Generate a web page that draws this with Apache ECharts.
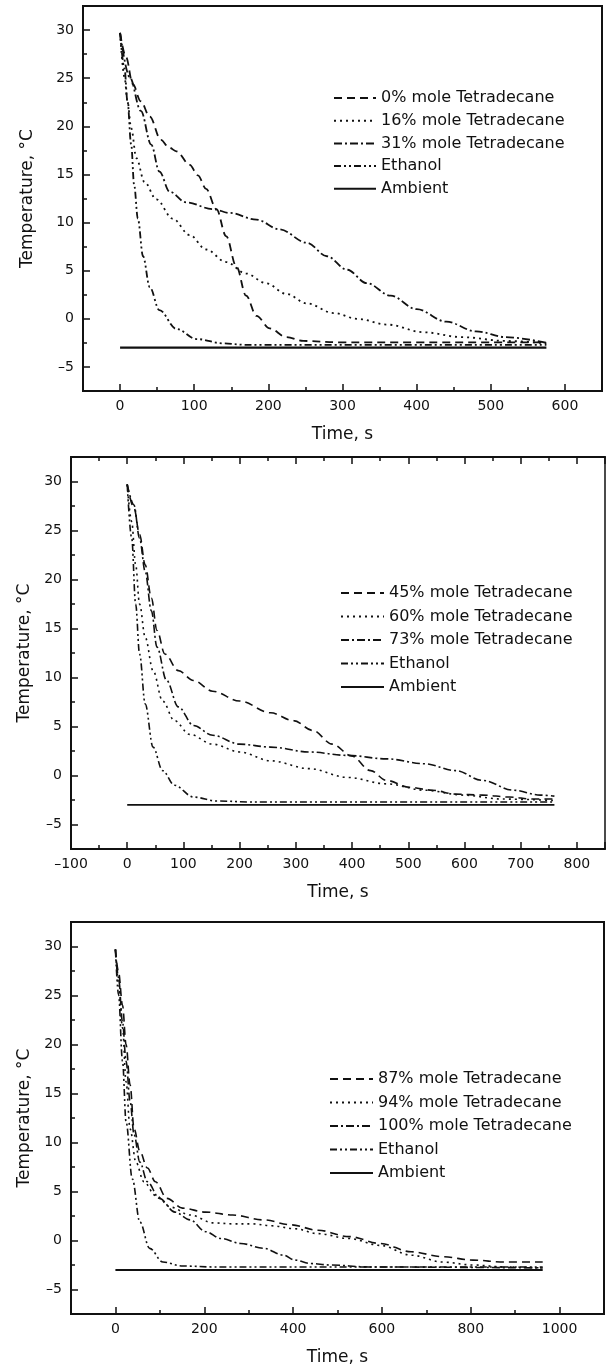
<!DOCTYPE html>
<html lang="en">
  <head>
    <meta charset="UTF-8" />
    <title>Cooling curves</title>
    <style>
      html,
      body {
        margin: 0;
        width: 100%;
        height: 100%;
        background: #fff;
      }
      #main {
        width: 607px;
        height: 1368px;
      }
    </style>
  </head>
  <body>
    <div id="main"></div>
    <script src="https://cdn.jsdelivr.net/npm/echarts@6/dist/echarts.min.js"></script>
    <script>
      // panel 1: [time s, temperature °C]
      const p1Mole0 = [[0, 29.7], [8, 27.2], [17, 24.4], [28, 22.6], [40, 21], [55, 18.6], [66, 17.8], [76, 17.4], [94, 16], [105, 14.9], [116, 13.5], [130, 11.4], [143, 8.6], [157, 5.4], [170, 2.4], [184, 0.3], [202, -1.0], [224, -1.9], [247, -2.3], [300, -2.45], [400, -2.45], [500, -2.45], [575, -2.45]];
      const p1Mole16 = [[0, 29.7], [6, 25.1], [10, 22.6], [15, 19.8], [22, 16.7], [33, 14.2], [49, 12.4], [71, 10.4], [94, 8.7], [116, 7.2], [143, 5.9], [170, 4.7], [197, 3.7], [224, 2.6], [252, 1.6], [288, 0.6], [320, 0], [360, -0.6], [410, -1.4], [460, -1.9], [520, -2.3], [575, -2.55]];
      const p1Mole31 = [[0, 29.7], [13, 25.1], [28, 21.6], [42, 18.1], [53, 15.3], [67, 13.2], [89, 12.1], [125, 11.4], [148, 11.0], [184, 10.3], [215, 9.3], [252, 7.9], [279, 6.5], [306, 5.1], [333, 3.7], [365, 2.4], [400, 1.0], [440, -0.3], [480, -1.3], [520, -1.9], [575, -2.5]];
      const p1Ethanol = [[0, 29.7], [6, 26], [10, 22.6], [15, 18.1], [19, 13.9], [24, 10.4], [31, 6.5], [40, 3.3], [53, 0.9], [76, -1.05], [103, -2.1], [139, -2.55], [170, -2.7], [575, -2.7]];
      const p1Ambient = [[0, -3], [575, -3]];

      // panel 2
      const p2Mole45 = [[0, 29.7], [12, 27.3], [22, 24.6], [32, 21.5], [43, 18.1], [53, 14.8], [67, 12.4], [91, 10.7], [118, 9.7], [152, 8.6], [200, 7.6], [255, 6.4], [296, 5.6], [330, 4.6], [365, 3.2], [399, 2.0], [433, 0.5], [461, -0.5], [502, -1.2], [543, -1.5], [584, -1.9], [632, -2.0], [680, -2.2], [721, -2.4], [760, -2.4]];
      const p2Mole60 = [[0, 29.7], [8, 25.9], [15, 21.5], [22, 17.5], [32, 14.1], [46, 10.7], [63, 7.6], [84, 5.6], [111, 4.2], [152, 3.2], [200, 2.4], [255, 1.5], [324, 0.7], [392, -0.2], [461, -0.85], [529, -1.5], [598, -2.0], [666, -2.4], [760, -2.55]];
      const p2Mole73 = [[0, 29.7], [12, 27.6], [22, 24.2], [32, 20.8], [43, 16.8], [53, 13.1], [70, 9.7], [91, 7.0], [118, 5.1], [152, 4.1], [200, 3.2], [255, 2.9], [324, 2.4], [392, 2.05], [461, 1.7], [529, 1.2], [584, 0.5], [632, -0.5], [687, -1.5], [735, -2.0], [760, -2.1]];
      const p2Ethanol = [[0, 29.7], [8, 24.2], [15, 17.5], [22, 12.4], [32, 7.3], [46, 2.9], [63, 0.5], [84, -1.0], [118, -2.2], [159, -2.6], [220, -2.7], [760, -2.7]];
      const p2Ambient = [[0, -3], [760, -3]];

      // panel 3
      const p3Mole87 = [[0, 29.7], [7, 27.4], [16, 24], [24, 20], [33, 15.9], [42, 11.4], [55, 9.1], [72, 7.4], [90, 6.0], [116, 4.3], [151, 3.3], [203, 2.9], [264, 2.6], [334, 2.1], [395, 1.6], [456, 1.05], [526, 0.4], [596, -0.3], [666, -1.15], [736, -1.65], [805, -2.0], [875, -2.2], [962, -2.2]];
      const p3Mole94 = [[0, 29.7], [7, 26.4], [16, 21.7], [24, 16.2], [33, 11.4], [46, 8.0], [64, 6.0], [90, 4.6], [125, 3.4], [168, 2.6], [221, 1.8], [264, 1.7], [308, 1.7], [352, 1.5], [404, 1.2], [456, 0.7], [526, 0.2], [596, -0.5], [666, -1.5], [736, -2.2], [805, -2.5], [875, -2.7], [962, -2.8]];
      const p3Mole100 = [[0, 29.7], [7, 26.8], [16, 22.3], [24, 18.3], [33, 14.2], [42, 10.8], [55, 8.0], [72, 6.0], [99, 4.3], [134, 2.9], [168, 2.1], [203, 0.9], [238, 0.2], [282, -0.3], [334, -0.8], [378, -1.5], [404, -2.0], [439, -2.35], [483, -2.5], [570, -2.7], [962, -2.8]];
      const p3Ethanol = [[0, 29.7], [7, 25.1], [16, 18.3], [24, 12.1], [38, 6.3], [55, 1.9], [77, -0.8], [107, -2.2], [151, -2.6], [221, -2.7], [962, -2.7]];
      const p3Ambient = [[0, -3], [962, -3]];

      const legend1 = ["0% mole Tetradecane", "16% mole Tetradecane", "31% mole Tetradecane", "Ethanol", "Ambient"];
      const legend2 = ["45% mole Tetradecane", "60% mole Tetradecane", "73% mole Tetradecane", "Ethanol", "Ambient"];
      const legend3 = ["87% mole Tetradecane", "94% mole Tetradecane", "100% mole Tetradecane", "Ethanol", "Ambient"];

      const ink = "#111";
      // dash patterns: dashed, dotted, dash-dot, dash-dot-dot, solid
      const dashes = [[8, 5], [2, 4], [8, 3, 2, 3], [7, 3, 2, 3, 2, 3], "solid"];

      const minus = (v) => String(v).replace("-", "\u2013");

      function xAxisFor(grid, min, max, split, showMin) {
        return {
          type: "value",
          gridIndex: grid,
          min: min,
          max: max,
          splitNumber: split,
          name: "Time, s",
          nameLocation: "middle",
          nameGap: 35,
          nameTextStyle: { fontSize: 17, color: ink },
          axisLine: { onZero: false, lineStyle: { color: ink, width: 2 } },
          axisTick: { inside: true, length: 7, lineStyle: { color: ink, width: 1.5 } },
          minorTick: { show: true, splitNumber: 2, length: 4, lineStyle: { color: ink, width: 1.5 } },
          axisLabel: {
            fontSize: 14,
            color: ink,
            margin: 8,
            showMinLabel: showMin,
            showMaxLabel: false,
            formatter: minus,
          },
          splitLine: { show: false },
        };
      }

      function yAxisFor(grid, gap) {
        return {
          type: "value",
          gridIndex: grid,
          min: -7.5,
          max: 32.5,
          splitNumber: 8,
          name: "Temperature, °C",
          nameLocation: "middle",
          nameGap: gap,
          nameTextStyle: { fontSize: 17, color: ink },
          axisLine: { onZero: false, lineStyle: { color: ink, width: 2 } },
          axisTick: { inside: true, length: 7, lineStyle: { color: ink, width: 1.5 } },
          minorTick: { show: true, splitNumber: 2, length: 4, lineStyle: { color: ink, width: 1.5 } },
          axisLabel: {
            fontSize: 14,
            color: ink,
            margin: 9,
            showMinLabel: false,
            showMaxLabel: false,
            formatter: minus,
          },
          splitLine: { show: false },
        };
      }

      function curve(name, data, xi, yi, style, width) {
        return {
          name: name,
          type: "line",
          xAxisIndex: xi,
          yAxisIndex: yi,
          data: data,
          symbol: "none",
          smooth: 0.35,
          smoothMonotone: "x",
          lineStyle: { color: ink, width: width, type: style },
          itemStyle: { color: ink },
        };
      }

      function legendFor(names, left, top, gap, itemWidth) {
        return {
          data: names,
          orient: "vertical",
          left: left,
          top: top,
          itemWidth: itemWidth,
          itemHeight: 14,
          itemGap: gap,
          selectedMode: false,
          itemStyle: { opacity: 0 },
          textStyle: { fontSize: 16, color: ink },
        };
      }

      // top axis of panel 2 carries ticks but no labels
      const topAxis2 = xAxisFor(1, -100, 850, 10, false);
      topAxis2.position = "top";
      topAxis2.name = "";
      topAxis2.axisLabel = { show: false };

      const option = {
        animation: false,
        textStyle: { fontFamily: "DejaVu Sans" },
        grid: [
          { left: 83, top: 6, width: 519, height: 385, show: true, borderColor: ink, borderWidth: 2 },
          { left: 71, top: 457, width: 534, height: 392, show: true, borderColor: ink, borderWidth: 1.5 },
          { left: 71, top: 922, width: 533, height: 392, show: true, borderColor: ink, borderWidth: 2 },
        ],
        legend: [
          legendFor(legend1, 328, 85, 6.7, 42),
          legendFor(legend2, 335, 580, 7.5, 43),
          legendFor(legend3, 324, 1066, 7.5, 43),
        ],
        xAxis: [
          xAxisFor(0, -50, 650, 7, false),
          xAxisFor(1, -100, 850, 10, true),
          topAxis2,
          xAxisFor(2, -100, 1100, 6, false),
        ],
        yAxis: [yAxisFor(0, 47), yAxisFor(1, 35), yAxisFor(2, 35)],
        series: [
          curve(legend1[0], p1Mole0, 0, 0, dashes[0], 1.8),
          curve(legend1[1], p1Mole16, 0, 0, dashes[1], 1.8),
          curve(legend1[2], p1Mole31, 0, 0, dashes[2], 1.8),
          curve(legend1[3], p1Ethanol, 0, 0, dashes[3], 1.8),
          curve(legend1[4], p1Ambient, 0, 0, dashes[4], 2.2),

          curve(legend2[0], p2Mole45, 1, 1, dashes[0], 1.6),
          curve(legend2[1], p2Mole60, 1, 1, dashes[1], 1.6),
          curve(legend2[2], p2Mole73, 1, 1, dashes[2], 1.6),
          curve("Ethanol", p2Ethanol, 1, 1, dashes[3], 1.6),
          curve("Ambient", p2Ambient, 1, 1, dashes[4], 1.6),

          curve(legend3[0], p3Mole87, 3, 2, dashes[0], 1.6),
          curve(legend3[1], p3Mole94, 3, 2, dashes[1], 1.6),
          curve(legend3[2], p3Mole100, 3, 2, dashes[2], 1.6),
          curve("Ethanol", p3Ethanol, 3, 2, dashes[3], 1.6),
          curve("Ambient", p3Ambient, 3, 2, dashes[4], 2),
        ],
      };

      const myChart = echarts.init(document.getElementById("main"));
      myChart.setOption(option);
    </script>
  </body>
</html>
